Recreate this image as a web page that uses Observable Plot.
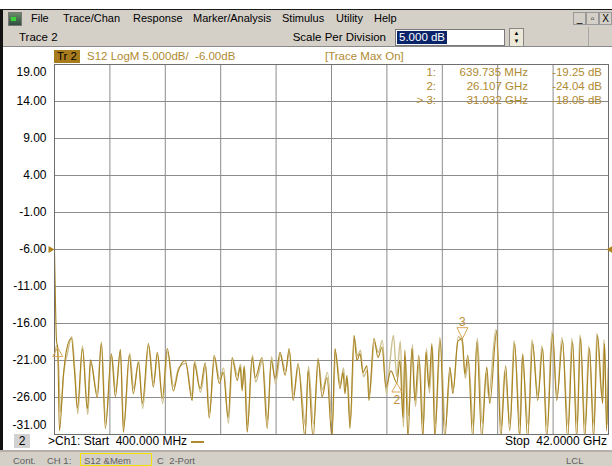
<!DOCTYPE html>
<html><head><meta charset="utf-8">
<script src="https://cdn.jsdelivr.net/npm/d3@7"></script>
<script src="https://cdn.jsdelivr.net/npm/@observablehq/plot@0.6"></script>
<style>
body{margin:0;background:#fff;font-family:"Liberation Sans",Arial,sans-serif;}
#root{position:relative;width:612px;height:466px;overflow:hidden;background:#fff;}
.abs{position:absolute;white-space:pre;line-height:1;}
</style></head><body><div id="root"></div>
<script>
// ---- chart settings / labels ----
const startGHz = 0.4, stopGHz = 42, divisions = 10, refLevel = -6;
const yTicks = [19, 14, 9, 4, -1, -6, -11, -16, -21, -26, -31];
const menuItems = ["File", "Trace/Chan", "Response", "Marker/Analysis", "Stimulus", "Utility", "Help"];
const menuX = [31, 63, 133, 193, 282, 336, 374];

// ---- S12 data trace (GHz, dB) ----
const dataFreq = [0.40,0.47,0.55,0.64,0.77,1.07,1.30,1.67,1.90,2.12,2.50,2.87,3.10,3.62,3.92,4.22,4.67,4.97,5.35,5.57,6.02,6.32,6.70,7.00,7.45,7.82,8.12,8.50,8.87,9.32,9.70,10.22,10.74,10.89,11.34,11.72,12.02,12.39,12.77,13.07,13.44,13.74,14.12,14.34,14.49,14.64,14.87,15.24,15.47,15.99,16.37,16.67,16.97,17.34,17.72,18.02,18.32,18.69,19.22,19.44,19.82,20.19,20.49,20.86,21.24,21.46,21.84,22.06,22.21,22.36,22.59,22.89,23.11,23.34,23.56,23.86,24.01,24.39,24.69,24.99,25.29,25.66,26.11,26.34,26.56,26.71,26.94,27.24,27.46,27.76,28.06,28.29,28.51,28.74,28.96,29.34,29.71,30.09,30.31,30.69,31.03,31.21,31.44,31.81,32.11,32.48,32.86,33.08,33.61,33.91,34.28,34.58,34.96,35.33,35.56,35.93,36.31,36.68,37.06,37.36,37.81,38.11,38.56,38.93,39.31,39.61,39.91,40.21,40.58,40.88,41.18,41.56,41.71,41.85,42.00];
const dataDB = [-6.1,-12.9,-18.3,-19.25,-30.5,-23.0,-19.6,-18.0,-22.4,-27.4,-19.4,-27.5,-20.9,-26.0,-18.7,-30.2,-20.1,-25.9,-19.5,-30.7,-20.3,-25.5,-21.3,-26.8,-18.7,-24.6,-19.9,-26.1,-19.4,-25.1,-22.4,-21.0,-26.4,-21.4,-24.8,-21.3,-28.8,-20.3,-24.1,-22.6,-28.7,-20.6,-23.7,-21.9,-25.1,-21.7,-30.7,-20.6,-23.3,-20.6,-30.2,-21.0,-23.4,-19.9,-23.0,-19.4,-26.4,-21.4,-31.5,-22.4,-31.5,-20.7,-25.9,-23.3,-31.5,-19.4,-24.8,-22.6,-25.5,-23.0,-30.2,-17.6,-21.0,-20.1,-22.6,-21.7,-26.4,-18.0,-20.6,-19.2,-24.6,-22.4,-24.04,-21.0,-28.7,-19.6,-31.5,-19.4,-26.4,-20.3,-31.5,-19.9,-24.6,-18.7,-31.5,-17.9,-31.5,-21.9,-25.5,-18.4,-18.05,-22.8,-20.3,-31.5,-18.5,-31.5,-21.9,-26.8,-17.0,-31.5,-21.7,-30.5,-18.7,-31.5,-20.1,-31.5,-18.7,-26.4,-19.4,-31.5,-17.4,-26.4,-18.3,-31.5,-18.5,-31.5,-17.9,-31.5,-19.4,-31.5,-17.6,-26.8,-18.7,-30.5,-21.0];

// ---- memory trace (GHz, dB) ----
const memFreq = [0.40,0.55,0.70,0.85,1.10,1.35,1.70,1.95,2.15,2.50,2.90,3.12,3.60,3.92,4.25,4.70,5.00,5.35,5.60,6.05,6.35,6.72,7.02,7.47,7.85,8.15,8.52,8.90,9.35,9.72,10.25,10.75,10.92,11.36,11.75,12.04,12.42,12.80,13.10,13.46,13.77,14.15,14.37,14.52,14.68,14.90,15.27,15.50,16.02,16.40,16.70,17.00,17.37,17.75,18.05,18.35,18.72,19.25,19.47,19.85,20.22,20.52,20.90,21.27,21.50,21.87,22.10,22.25,22.40,22.62,22.92,23.15,23.38,23.60,23.90,24.05,24.42,24.72,25.02,25.32,25.60,25.85,26.10,26.37,26.60,26.75,26.98,27.28,27.50,27.80,28.10,28.33,28.55,28.78,29.00,29.38,29.75,30.12,30.35,30.72,31.00,31.25,31.48,31.85,32.15,32.52,32.80,33.00,33.55,33.95,34.20,34.62,34.90,35.38,35.50,35.98,36.25,36.72,37.00,37.40,37.75,38.15,38.50,38.98,39.25,39.66,39.85,40.25,40.52,40.92,41.12,41.52,41.66,41.90,42.00];
const memDB = [-20.3,-19.0,-21.5,-28.0,-22.5,-20.2,-17.8,-23.0,-28.2,-19.0,-28.3,-21.2,-25.4,-18.5,-29.5,-20.4,-25.2,-19.8,-30.0,-20.0,-24.8,-21.0,-27.5,-19.0,-24.0,-20.2,-26.8,-19.8,-24.5,-22.0,-21.4,-25.8,-21.0,-25.3,-21.8,-28.0,-20.6,-23.5,-22.0,-29.5,-20.9,-23.0,-21.5,-24.4,-22.0,-29.8,-20.3,-23.9,-21.0,-29.0,-20.5,-24.2,-20.3,-22.4,-19.8,-25.6,-21.9,-29.8,-21.8,-29.6,-21.2,-25.0,-22.6,-29.6,-19.9,-24.2,-22.0,-24.6,-23.6,-29.4,-18.0,-20.4,-19.6,-23.2,-22.3,-25.6,-18.6,-19.9,-18.3,-25.5,-21.0,-17.6,-23.2,-18.4,-30.0,-20.5,-28.5,-18.9,-27.2,-21.0,-29.8,-19.4,-25.4,-19.2,-29.6,-18.4,-29.9,-22.5,-24.8,-17.8,-18.4,-23.4,-20.9,-29.9,-18.0,-29.5,-22.6,-25.8,-16.8,-29.9,-22.4,-29.6,-18.3,-29.8,-20.6,-29.7,-18.2,-25.8,-19.0,-29.9,-17.0,-25.8,-17.9,-29.8,-18.0,-29.7,-17.5,-29.8,-19.0,-29.7,-17.3,-26.2,-18.2,-29.6,-22.0];

// ---- markers ----
const markerNum = [1, 2, 3];
const markerFreq = [0.639735, 26.107, 31.032];
const markerDB = [-19.25, -24.04, -18.05];
const markerFreqText = ["639.735 MHz", "26.107 GHz", "31.032 GHz"];
const markerDir = ["up", "up", "down"];

const dataColor = "#a8821e", memColor = "#cdc08f", mkColor = "#d9a75a", txtGold = "#b08a30";

const dataRows = dataFreq.map((f, i) => ({f, v: dataDB[i]}));
const memRows = memFreq.map((f, i) => ({f, v: memDB[i]}));
const markers = markerNum.map((n, i) => ({n, f: markerFreq[i], db: markerDB[i], dir: markerDir[i]}));
const xGrid = d3.range(divisions + 1).map(i => startGHz + i * (stopGHz - startGHz) / divisions);

const root = document.getElementById("root");
function box(left, top, w, h, style) {
  const d = document.createElement("div");
  d.className = "abs";
  Object.assign(d.style, {left: left + "px", top: top + "px", width: w + "px", height: h + "px"}, style || {});
  root.appendChild(d); return d;
}
function txt(s, left, top, style) {
  const d = document.createElement("div");
  d.className = "abs"; d.textContent = s;
  Object.assign(d.style, {left: left + "px", top: top + "px"}, style || {});
  root.appendChild(d); return d;
}

// window chrome
box(0, 9, 612, 1, {background: "#1a1a1a"});
box(0, 10, 612, 17, {background: "#d4d0c8"});
box(8, 12, 12, 12, {background: "linear-gradient(#6a8a6a,#2f4f3f)", border: "1px solid #777"});
box(11, 17, 5, 4, {background: "#3ad13a"});
menuItems.forEach((m, i) => txt(m, menuX[i], 13, {fontSize: "11px", color: "#000"}));
[573, 586, 599].forEach((x, i) => {
  const b = box(x, 12, 11, 11, {border: "1px solid #999", background: "#d4d0c8", fontSize: "10px", textAlign: "center", lineHeight: "11px"});
  b.textContent = ["_", "▫", "X"][i];
});
box(0, 27, 612, 19, {background: "#d4d0c8"});
box(0, 46, 612, 1, {background: "#8a8a8a"});
box(588, 27, 1, 19, {background: "#a8a8a8"});
txt("Trace 2", 19, 32, {fontSize: "11.5px"});
txt("Scale Per Division", 0, 32, {fontSize: "11.5px", width: "386px", textAlign: "right"});
const inp = box(395, 29, 108, 15, {background: "#fff", border: "1px solid #7a7a7a"});
const sel = document.createElement("span");
sel.textContent = "5.000 dB";
Object.assign(sel.style, {position: "absolute", left: "1px", top: "1px", background: "#0a246a", color: "#fff", fontSize: "11.5px", padding: "0 2px", lineHeight: "13px"});
inp.appendChild(sel);
const sp = box(509, 28, 13, 17, {background: "#ece9d8", border: "1px solid #888", fontSize: "6px", textAlign: "center", lineHeight: "8px"});
sp.textContent = "▲\n▼";

// chart
const svgTop = 47, svgH = 403;
const plot = Plot.plot({
  width: 612, height: svgH,
  marginLeft: 54, marginRight: 4, marginTop: 17, marginBottom: 16,
  style: {fontFamily: "Liberation Sans, Arial, sans-serif", background: "#fff", overflow: "visible"},
  x: {domain: [startGHz, stopGHz], axis: null},
  y: {domain: [yTicks[yTicks.length - 1], yTicks[0]], axis: null},
  marks: [
    Plot.ruleY(yTicks, {stroke: "#8c8c8c", strokeWidth: 1}),
    Plot.ruleX(xGrid, {stroke: "#8c8c8c", strokeWidth: 1}),
    Plot.line(memRows, {x: "f", y: "v", stroke: memColor, strokeWidth: 1.4, curve: "monotone-x", clip: true}),
    Plot.line(dataRows, {x: "f", y: "v", stroke: dataColor, strokeWidth: 1.1, curve: "monotone-x", clip: true}),
    Plot.frame({stroke: "#6e6e6e"}),
    Plot.text(yTicks.slice(1, -1), {frameAnchor: "left", y: d => d, text: d => d.toFixed(2), textAnchor: "end", dx: -8, fontSize: 12, fill: "#000"}),
    Plot.text([yTicks[0]], {frameAnchor: "left", y: d => d, text: d => d.toFixed(2), textAnchor: "end", dx: -8, dy: 8, fontSize: 12, fill: "#000"}),
    Plot.text([yTicks[yTicks.length - 1]], {frameAnchor: "left", y: d => d, text: d => d.toFixed(2), textAnchor: "end", dx: -8, dy: -9, fontSize: 12, fill: "#000"}),
    Plot.dot([refLevel], {x: () => startGHz, y: d => d, r: 5, fill: "#b0821c", stroke: "none",
      symbol: {draw(c) { c.moveTo(0, 0); c.lineTo(-6, -3.5); c.lineTo(-6, 3.5); c.closePath(); }}}),
    Plot.dot([refLevel], {x: () => stopGHz, y: d => d, r: 5, dx: -2, fill: "#b0821c", stroke: "none",
      symbol: {draw(c) { c.moveTo(0, 0); c.lineTo(6, -3.5); c.lineTo(6, 3.5); c.closePath(); }}}),
    Plot.dot(markers.filter(m => m.dir === "up"), {x: "f", y: "db", r: 5, fill: "none", stroke: mkColor, strokeWidth: 1,
      symbol: {draw(c) { c.moveTo(0, 0); c.lineTo(5, 9); c.lineTo(-5, 9); c.closePath(); }}}),
    Plot.dot(markers.filter(m => m.dir === "down"), {x: "f", y: "db", r: 5, fill: "none", stroke: mkColor, strokeWidth: 1,
      symbol: {draw(c) { c.moveTo(0, 0); c.lineTo(5.5, -11); c.lineTo(-5.5, -11); c.closePath(); }}}),
    Plot.text(markers.filter(m => m.dir === "up" && m.n !== 1), {x: "f", y: "db", text: d => String(d.n), dy: 17, fontSize: 12, fill: "#c0903a"}),
    Plot.text(markers.filter(m => m.dir === "down"), {x: "f", y: "db", text: d => String(d.n), dy: -17, fontSize: 12, fill: "#c0903a"})
  ]
});
plot.style.position = "absolute"; plot.style.left = "0px"; plot.style.top = svgTop + "px";
root.appendChild(plot);

// left border
box(0, 10, 3, 440, {background: "#111"});

// trace header
const tr = box(54, 50, 26, 13, {background: "#a87c1c", fontSize: "11.5px", color: "#000", textAlign: "center", lineHeight: "13px"});
tr.textContent = "Tr 2";
txt("S12 LogM 5.000dB/  -6.00dB", 87, 51, {fontSize: "11.5px", color: txtGold});
txt("[Trace Max On]", 325, 51, {fontSize: "11.5px", color: txtGold});

// marker readout
markers.forEach((m, i) => {
  const top = 67 + i * 14;
  txt((i === 2 ? "> " : "") + m.n + ":", 0, top, {fontSize: "11.5px", color: txtGold, width: "436px", textAlign: "right"});
  txt(markerFreqText[i], 0, top, {fontSize: "11.5px", color: txtGold, width: "528px", textAlign: "right"});
  txt(m.db.toFixed(2) + " dB", 0, top, {fontSize: "11.5px", color: txtGold, width: "602px", textAlign: "right"});
});

// bottom line
const ch = box(14, 434, 16, 14, {background: "#d2d2d2", fontSize: "12px", textAlign: "center", lineHeight: "14px"});
ch.textContent = "2";
txt(">Ch1: Start  400.000 MHz", 48, 435, {fontSize: "12px"});
box(191, 441, 13, 1.5, {background: txtGold});
txt("Stop  42.0000 GHz", 0, 435, {fontSize: "12px", width: "607px", textAlign: "right"});

// status bar
box(0, 450, 612, 16, {background: "#d4d0c8"});
box(0, 450, 612, 2, {background: "#b4b0a8"});
const sty = {fontSize: "9.5px", color: "#606060"};
txt("Cont.", 13, 456, sty);
txt("CH 1:", 47, 456, sty);
box(80, 453, 72, 13, {border: "1px solid #f2e200", boxSizing: "border-box"});
txt("S12 &Mem", 84, 456, sty);
txt("C  2-Port", 157, 456, sty);
txt("LCL", 566, 456, sty);
</script></body></html>
